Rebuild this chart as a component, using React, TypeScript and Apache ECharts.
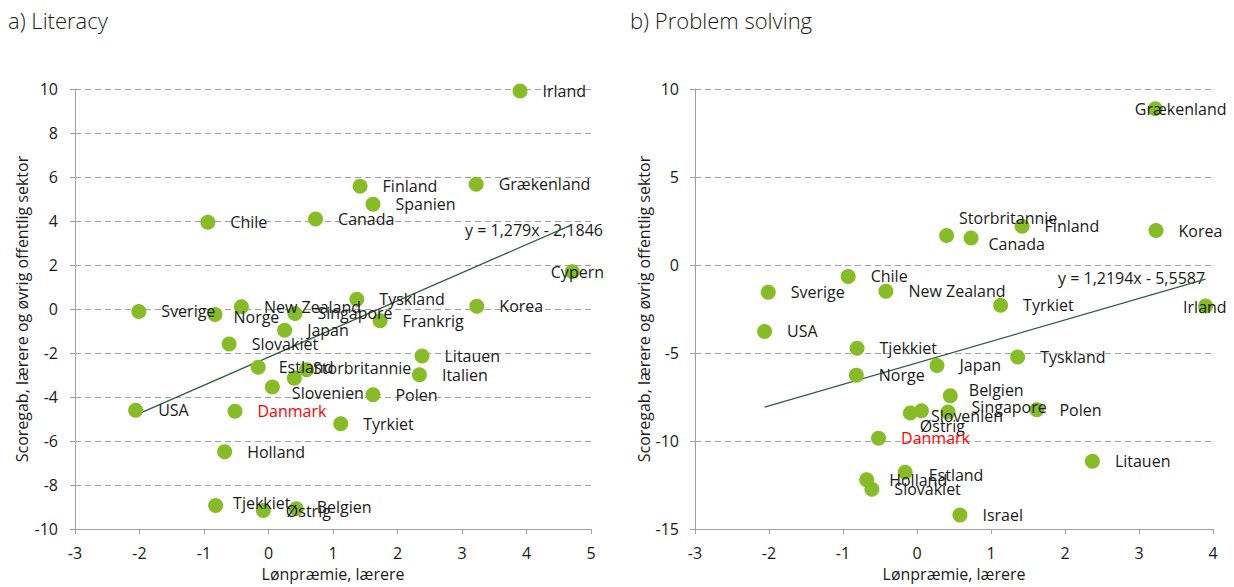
import React, { useEffect, useRef } from "react";
import * as echarts from "echarts";

// ---- Data: a) Literacy ----
const litCountries = ["Irland","Finland","Grækenland","Spanien","Canada","Chile","Cypern","Sverige","Norge","New Zealand","Singapore","Tyskland","Korea","Frankrig","Japan","Slovakiet","Estland","Storbritannie","Israel","Slovenien","Litauen","Italien","Polen","USA","Danmark","Tyrkiet","Holland","Tjekkiet","Østrig","Belgien"];
const litX = [3.90,1.42,3.22,1.62,0.73,-0.94,4.71,-2.01,-0.83,-0.42,0.41,1.37,3.23,1.73,0.25,-0.61,-0.16,0.59,0.40,0.06,2.38,2.34,1.62,-2.06,-0.52,1.12,-0.68,-0.82,-0.08,0.43];
const litY = [9.91,5.58,5.67,4.76,4.09,3.95,1.69,-0.11,-0.25,0.10,-0.20,0.44,0.13,-0.53,-0.96,-1.59,-2.64,-2.76,-3.14,-3.54,-2.13,-2.99,-3.89,-4.60,-4.64,-5.21,-6.49,-8.93,-9.16,-9.08];
const litTrend = [[-2.06, -4.82], [4.71, 3.84]];
const litEquation = "y = 1,279x - 2,1846";

// ---- Data: b) Problem solving ----
const psCountries = ["Grækenland","Storbritannie","Canada","Finland","Korea","Chile","Sverige","New Zealand","Tyrkiet","Irland","USA","Tjekkiet","Norge","Tyskland","Japan","Belgien","Singapore","Slovenien","Østrig","Polen","Danmark","Litauen","Estland","Holland","Slovakiet","Israel"];
const psX = [3.22,0.40,0.73,1.42,3.23,-0.93,-2.01,-0.42,1.13,3.90,-2.06,-0.81,-0.82,1.36,0.27,0.45,0.42,0.06,-0.09,1.62,-0.52,2.37,-0.16,-0.68,-0.61,0.58];
const psY = [8.88,1.68,1.54,2.21,1.96,-0.65,-1.55,-1.49,-2.28,-2.33,-3.77,-4.73,-6.26,-5.23,-5.70,-7.42,-8.35,-8.28,-8.41,-8.22,-9.84,-11.15,-11.77,-12.20,-12.74,-14.20];
const psTrend = [[-2.06, -8.07], [3.90, -0.80]];
const psEquation = "y = 1,2194x - 5,5587";

// ---- Axis texts ----
const titleA = "a) Literacy";
const titleB = "b) Problem solving";
const xName = "Lønpræmie, lærere";
const yName = "Scoregab, lærere og øvrig offentlig sektor";

// ---- Label styling (positions of manually moved labels) ----
const litOffsets: Record<string, number[]> = {
  Cypern: [-44, 0], Norge: [-4, 2], Storbritannie: [-16, -2], Slovenien: [-3, 6],
  Tjekkiet: [-5, -3], Belgien: [-2, -2], Estland: [-2, 0],
};
const litHidden = ["Israel"];
const psOffsets: Record<string, number[]> = {
  Grækenland: [-43, 0], Storbritannie: [-10, -17], Canada: [-5, 6], Irland: [-45, 1],
  Belgien: [-4, -6], Singapore: [1, -5], Slovenien: [-13, 5], Østrig: [-13, 13], Estland: [1, 3],
};

const FONT = "'Open Sans', 'Noto Sans', sans-serif";
const FS = 16;
const GREEN = "#86bc25";
const TEXT = "#1a1a1a";
const AXIS = "#a0a0a0";

function buildPoints(names: string[], xs: number[], ys: number[], offsets: Record<string, number[]>, hidden: string[]) {
  return names.map((n, i) => ({
    name: n,
    value: [xs[i], ys[i]],
    label: {
      show: !hidden.includes(n),
      offset: offsets[n] || [0, 0],
      color: n === "Danmark" ? "#ff0000" : TEXT,
    },
  }));
}

function xAxisCfg(gridIndex: number, min: number, max: number) {
  return {
    type: "value", gridIndex, min, max, interval: 1,
    name: xName, nameLocation: "middle", nameGap: 36,
    nameTextStyle: { fontFamily: FONT, fontSize: FS, color: TEXT },
    axisLine: { show: true, onZero: false, lineStyle: { color: AXIS, width: 1 } },
    axisTick: { show: true, length: 5, lineStyle: { color: AXIS } },
    axisLabel: { fontFamily: FONT, fontSize: FS, color: TEXT, margin: 16 },
    splitLine: { show: false },
  };
}
function yAxisCfg(gridIndex: number, min: number, max: number, interval: number, nameGap: number, margin: number) {
  return {
    type: "value", gridIndex, min, max, interval,
    name: yName, nameLocation: "middle", nameGap,
    nameTextStyle: { fontFamily: FONT, fontSize: FS, color: TEXT },
    axisLine: { show: true, onZero: false, lineStyle: { color: AXIS, width: 1 } },
    axisTick: { show: true, length: 5, lineStyle: { color: AXIS } },
    axisLabel: { fontFamily: FONT, fontSize: FS, color: TEXT, margin },
    splitLine: { show: true, lineStyle: { color: AXIS, type: [6, 4], width: 1 } },
  };
}

export default function App() {
  const ref = useRef<HTMLDivElement>(null);
  useEffect(() => {
    if (!ref.current) return;
    const chart = echarts.init(ref.current, undefined, { renderer: "svg" });
    const scatterLabel = {
      show: true, position: "right", distance: 15,
      fontFamily: FONT, fontSize: FS, color: TEXT,
    };
    chart.setOption({
      animation: false,
      backgroundColor: "#ffffff",
      textStyle: { fontFamily: FONT },
      grid: [
        { left: 75, top: 89, width: 516, height: 443 },
        { left: 695, top: 89, width: 518, height: 446 },
      ],
      xAxis: [xAxisCfg(0, -3, 5), xAxisCfg(1, -3, 4)],
      yAxis: [yAxisCfg(0, -10, 10, 2, 45, 17), yAxisCfg(1, -15, 10, 5, 41, 16)],
      graphic: [
        { type: "text", x: 8, y: 20, style: { text: titleA, fontFamily: FONT, fontSize: 22, fontWeight: 300, fill: TEXT, verticalAlign: "middle" } },
        { type: "text", x: 630, y: 20, style: { text: titleB, fontFamily: FONT, fontSize: 22, fontWeight: 300, fill: TEXT, verticalAlign: "middle" } },
        { type: "text", x: 465, y: 230, style: { text: litEquation, fontFamily: FONT, fontSize: FS, fill: TEXT, verticalAlign: "middle" } },
        { type: "text", x: 1058, y: 278, style: { text: psEquation, fontFamily: FONT, fontSize: FS, fill: TEXT, verticalAlign: "middle" } },
      ],
      series: [
        {
          type: "line", xAxisIndex: 0, yAxisIndex: 0, data: litTrend, symbol: "none",
          lineStyle: { color: "#2e5e3a", width: 1.3 }, z: 3, silent: true,
        },
        {
          type: "line", xAxisIndex: 1, yAxisIndex: 1, data: psTrend, symbol: "none",
          lineStyle: { color: "#2e5e3a", width: 1.3 }, z: 3, silent: true,
        },
        {
          type: "scatter", xAxisIndex: 0, yAxisIndex: 0, symbolSize: 15,
          itemStyle: { color: GREEN, opacity: 1 },
          label: { ...scatterLabel, formatter: "{b}" },
          data: buildPoints(litCountries, litX, litY, litOffsets, litHidden), z: 4,
        },
        {
          type: "scatter", xAxisIndex: 1, yAxisIndex: 1, symbolSize: 15,
          itemStyle: { color: GREEN, opacity: 1 },
          label: { ...scatterLabel, formatter: "{b}" },
          data: buildPoints(psCountries, psX, psY, psOffsets, []), z: 4,
        },
      ],
    });
    return () => chart.dispose();
  }, []);
  return (
    <div
      ref={ref}
      style={{ position: "absolute", left: 0, top: 0, width: 1234, height: 587, background: "#fff" }}
    />
  );
}
